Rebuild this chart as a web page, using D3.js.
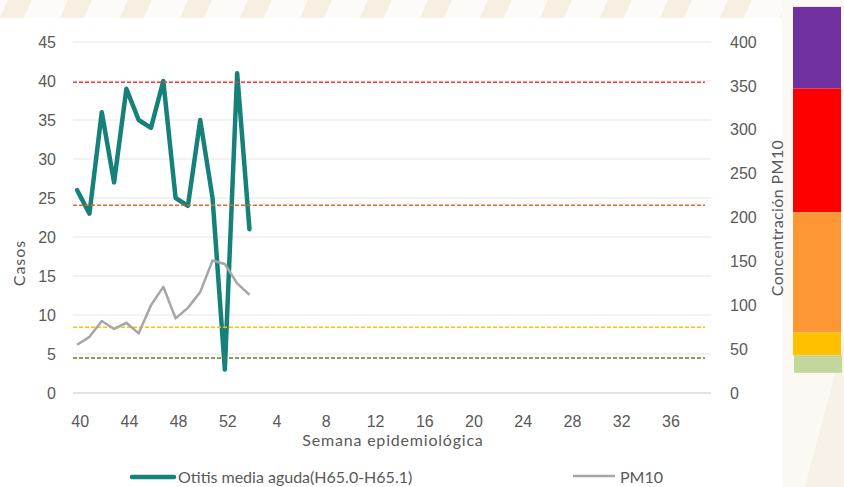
<!DOCTYPE html>
<html>
<head>
<meta charset="utf-8">
<script src="https://cdn.jsdelivr.net/npm/d3@7"></script>
<style>
  body { margin: 0; background: #fff; }
  svg { display: block; font-family: Lato, "Open Sans", sans-serif; }
</style>
</head>
<body>
<svg width="844" height="487"></svg>
<script>
// weeks 40-52 then 1-39
var weeks = d3.range(40, 53).concat(d3.range(1, 40));
var casos = [26, 23, 36, 27, 39, 35, 34, 40, 25, 24, 35, 25, 3, 41, 21];
var pm10 = [55, 64, 82, 73, 80, 68, 100, 121, 85, 97, 115, 151, 147, 125, 112];
var leftTicks = [0, 5, 10, 15, 20, 25, 30, 35, 40, 45];
var rightTicks = [0, 50, 100, 150, 200, 250, 300, 350, 400];
// PM10 thresholds (dashed lines)
var limits = [354, 214, 75, 40];
var limitColors = ['#e3403f', '#e0662e', '#ffc000', '#5f7f2c'];
// colour scale bar on the right, in PM10 units
var bandFrom = [347, 206, 69, 43, 23];
var bandTo = [440, 347, 206, 69, 43];
var bandColors = ['#7030a0', '#ff0000', '#fd9735', '#ffc000', '#c3d69b'];

var svg = d3.select('svg');
var mLeft = 71, mRight = 711, mTop = 42, mBottom = 393;

var x = d3.scaleBand().domain(weeks).range([mLeft, mRight]);
var y = d3.scaleLinear().domain([0, 45]).range([mBottom, mTop]);
var y2 = d3.scaleLinear().domain([0, 400]).range([mBottom, mTop]);
var cx = function(d, i) { return x(weeks[i]) + x.bandwidth() / 2; };

// background decoration at the top
var pat = svg.append('defs').append('pattern')
    .attr('id', 'stripes').attr('patternUnits', 'userSpaceOnUse')
    .attr('width', 60).attr('height', 20)
    .attr('patternTransform', 'skewX(-25)');
pat.append('rect').attr('width', 60).attr('height', 20).attr('fill', '#fdfbf7');
pat.append('rect').attr('x', 8).attr('width', 24).attr('height', 20).attr('fill', '#f6efe2');
svg.append('rect').attr('x', 0).attr('y', 0).attr('width', 844).attr('height', 18)
    .attr('fill', 'url(#stripes)');
svg.append('rect').attr('x', 782).attr('y', 0).attr('width', 62).attr('height', 487)
    .attr('fill', '#fcf9f4');
svg.append('path').attr('d', 'M805,487 L844,340 L844,487 Z').attr('fill', '#f8f1e7');

// gridlines
svg.append('g').selectAll('line').data(leftTicks.slice(1)).join('line')
    .attr('x1', mLeft + 2).attr('x2', mRight)
    .attr('y1', function(d) { return y(d); }).attr('y2', function(d) { return y(d); })
    .attr('stroke', '#eeeeee').attr('stroke-width', 1.3);
svg.append('line').attr('x1', mLeft + 2).attr('x2', mRight)
    .attr('y1', y(0)).attr('y2', y(0))
    .attr('stroke', '#d9d9d9').attr('stroke-width', 1.5);

// axes
var ax = svg.append('g').attr('transform', 'translate(3,' + (mBottom + 20) + ')')
    .call(d3.axisBottom(x).tickSize(0)
        .tickValues(weeks.filter(function(d, i) { return i % 4 === 0; })));
var ayl = svg.append('g').attr('transform', 'translate(' + (mLeft - 5) + ',0)')
    .call(d3.axisLeft(y).tickValues(leftTicks).tickSize(0).tickPadding(10));
var ayr = svg.append('g').attr('transform', 'translate(' + (mRight + 9) + ',0)')
    .call(d3.axisRight(y2).tickValues(rightTicks).tickSize(0).tickPadding(10));
[ax, ayl, ayr].forEach(function(g) {
    g.select('.domain').remove();
    g.selectAll('text').attr('fill', '#595959').style('font-size', '16px');
});

// series
var line = d3.line().x(cx);
svg.append('path').datum(casos)
    .attr('d', line.y(function(d) { return y(d); }))
    .attr('fill', 'none').attr('stroke', '#15817a').attr('stroke-width', 4.5)
    .attr('stroke-linejoin', 'round').attr('stroke-linecap', 'round');

// threshold lines
svg.append('g').selectAll('line').data(limits).join('line')
    .attr('x1', mLeft + 2).attr('x2', mRight - 6)
    .attr('y1', function(d) { return y2(d); }).attr('y2', function(d) { return y2(d); })
    .attr('stroke', function(d, i) { return limitColors[i]; })
    .attr('stroke-width', 1.5).attr('stroke-dasharray', '4,2');

svg.append('path').datum(pm10)
    .attr('d', line.y(function(d) { return y2(d); }))
    .attr('fill', 'none').attr('stroke', '#a6a6a6').attr('stroke-width', 2.5)
    .attr('stroke-linejoin', 'round');

// colour bar
svg.append('g').selectAll('rect').data(bandColors).join('rect')
    .attr('x', function(d, i) { return i === 4 ? 794 : 793; })
    .attr('width', 48)
    .attr('y', function(d, i) { return y2(bandTo[i]); })
    .attr('height', function(d, i) { return y2(bandFrom[i]) - y2(bandTo[i]); })
    .attr('fill', function(d) { return d; });

// axis titles
svg.append('text').attr('transform', 'translate(25,263) rotate(-90)')
    .attr('text-anchor', 'middle').attr('fill', '#595959').style('font-size', '16px')
    .style('letter-spacing', '1px').text('Casos');
svg.append('text').attr('transform', 'translate(783,218) rotate(-90)')
    .attr('text-anchor', 'middle').attr('fill', '#595959').style('font-size', '16px')
    .style('letter-spacing', '0.4px').text('Concentración PM10');
svg.append('text').attr('x', 393).attr('y', 446)
    .attr('text-anchor', 'middle').attr('fill', '#595959').style('font-size', '16px')
    .style('letter-spacing', '0.8px').text('Semana epidemiológica');

// legend
var leg = svg.append('g');
leg.append('line').attr('x1', 132).attr('x2', 174).attr('y1', 477).attr('y2', 477)
    .attr('stroke', '#15817a').attr('stroke-width', 4.5).attr('stroke-linecap', 'round');
leg.append('text').attr('x', 178).attr('y', 483).attr('fill', '#595959')
    .style('font-size', '16px').text('Otitis media aguda(H65.0-H65.1)');
leg.append('line').attr('x1', 573).attr('x2', 615).attr('y1', 476).attr('y2', 476)
    .attr('stroke', '#a6a6a6').attr('stroke-width', 2.5);
leg.append('text').attr('x', 620).attr('y', 483).attr('fill', '#595959')
    .style('font-size', '16px').text('PM10');
</script>
</body>
</html>
